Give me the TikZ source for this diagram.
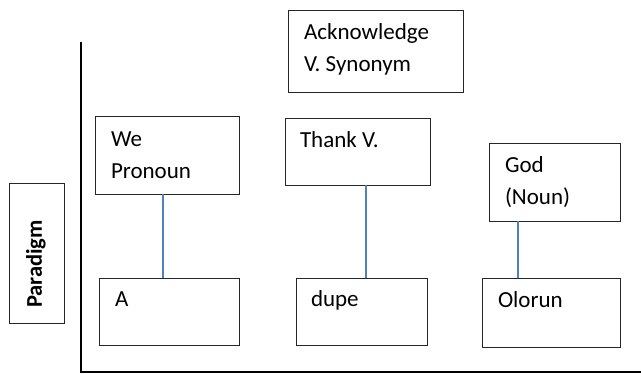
\documentclass[tikz,border=0pt]{standalone}
\usepackage{fontspec}
\setmainfont{Carlito}
\usepackage{xcolor}
\usepackage{tikz}
\usetikzlibrary{positioning, calc}

\definecolor{linkblue}{HTML}{4F81BD}

\begin{document}
\begin{tikzpicture}[x=1pt, y=-1pt,
  every node/.style={inner sep=0pt, outer sep=0pt},
  wordbox/.style={rectangle, draw=black!85, line width=0.8pt, anchor=north west},
  word/.style={anchor=base west, align=left, font=\fontsize{23}{32}\selectfont},
  link/.style={draw=linkblue, line width=1.1pt}]
\useasboundingbox (0,0) rectangle (641,374);

% axis
\draw [line width=1.2pt] (81,42) -- (81,372) -- (641,372);

% boxes
\node (ack) [wordbox, minimum width=175, minimum height=82] at (288,10) {};
\node (we) [wordbox, minimum width=144, minimum height=78] at (95,116) {};
\node (thank) [wordbox, minimum width=145, minimum height=67] at (285,118) {};
\node (god) [wordbox, minimum width=131, minimum height=78] at (489,143) {};
\node (a) [wordbox, minimum width=140, minimum height=67] at (99,278) {};
\node (dupe) [wordbox, minimum width=131, minimum height=67] at (296,278) {};
\node (olorun) [wordbox, minimum width=138, minimum height=69] at (482,278) {};
\node (para) [wordbox, minimum width=55, minimum height=140] at (9,183) {};

% texts (two-line texts sit on their last baseline)
\node (ack-t) [word] at (304,72) {Acknowledge\\V. Synonym};
\node (we-t) [word] at (111,179) {We\\Pronoun};
\node (thank-t) [word] at (300,148) {Thank V.};
\node (god-t) [word] at (505,205) {God\\(Noun)};
\node (a-t) [word] at (115,307) {A};
\node (dupe-t) [word] at (311,307) {dupe};
\node (olorun-t) [word] at (498,308) {Olorun};
\node (para-t) [rotate=90, font=\fontsize{22.5}{26}\selectfont\bfseries] at (36,264) {Paradigm};

% links
\coordinate (x1) at (163,0);
\coordinate (x2) at (366,0);
\coordinate (x3) at (518,0);
\draw [link] (we.south -| x1) -- (a.north -| x1);
\draw [link] (thank.south -| x2) -- (dupe.north -| x2);
\draw [link] (god.south -| x3) -- (olorun.north -| x3);
\end{tikzpicture}
\end{document}
